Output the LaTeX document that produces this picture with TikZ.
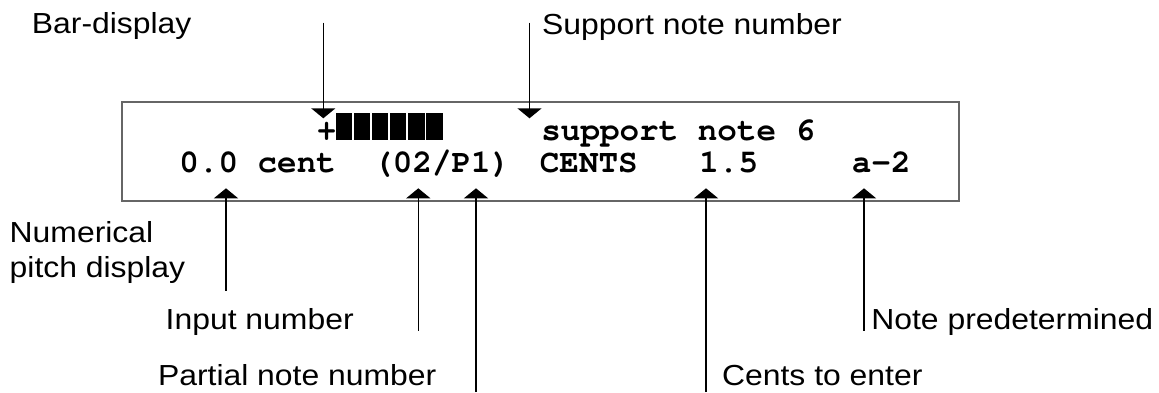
\documentclass[tikz,border=0pt]{standalone}
\usepackage[T1]{fontenc}
\usepackage{fontspec}
\usetikzlibrary{arrows.meta}
\newfontfamily\beschrfont[FakeStretch=1.1]{Liberation Sans}
\newcommand\anzeigefont{\fontencoding{T1}\fontfamily{pcr}\fontseries{b}\fontsize{16.3}{18}\selectfont}

\begin{document}
\begin{tikzpicture}[x=0.5pt, y=-0.5pt,
    pfeil/.style={line width=0.8pt, -{Triangle[width=12pt, length=5pt]}},
    beschr/.style={anchor=base west, inner sep=0pt, align=left, font=\beschrfont\fontsize{14.5}{17.5}\selectfont},
    anzeige/.style={anchor=base west, inner sep=0pt, font=\anzeigefont},
    balken/.style={fill=black}]
            \useasboundingbox (0,0) rectangle (1159,392);
            \draw [black!60, line width=0.8pt] (122,102) rectangle (959,201);  %Rahmen
            \node [anzeige] (plus) at (316.5,140) {+};                     %Zeile 1
            \fill [balken] (335.7,113.3) rectangle ++(16.4,26.7);
            \fill [balken] (353.8,113.3) rectangle ++(16.4,26.7);
            \fill [balken] (371.9,113.3) rectangle ++(16.4,26.7);
            \fill [balken] (390.0,113.3) rectangle ++(16.4,26.7);
            \fill [balken] (408.1,113.3) rectangle ++(16.4,26.7);
            \fill [balken] (426.2,113.3) rectangle ++(16.4,26.7);
            \node [anzeige] (stuetz) at (541,140) {support note 6};
            \node [anzeige] (wert) at (179,172.7) {0.0 cent};              %Zeile 2
            \node [anzeige] (eing) at (373,172.7) {(02/P1)};
            \node [anzeige] (cents) at (539.5,172.7) {CENTS};
            \node [anzeige] (zahl) at (699,172.7) {1.5};
            \node [anzeige] (ton) at (851.5,172.7) {a-2};
            \node [beschr] (bar) at (31.5,33.5) {Bar-display};             %Beschriftung
            \node [beschr] (sup) at (541.8,34.3) {Support note number};
            \node [beschr] (num) at (9.3,277.3) {Numerical\\pitch display};
            \node [beschr] (inp) at (165.3,329.3) {Input number};
            \node [beschr] (par) at (157.6,385) {Partial note number};
            \node [beschr] (cen) at (721.7,385) {Cents to enter};
            \node [beschr] (vorg) at (870.9,329.3) {Note predetermined};
            \coordinate (oben) at (0,118.3);                                %Pfeilspitzen
            \coordinate (unten) at (0,188.3);
            \coordinate (barS) at (323.3,22.7);                              %Pfeilenden
            \coordinate (supS) at (529.5,22.7);
            \coordinate (numS) at (226,290.7);
            \coordinate (inpS) at (418.3,330.7);
            \coordinate (parS) at (476,392);
            \coordinate (cenS) at (706,392);
            \coordinate (vorgS) at (864,330.7);
            \draw [pfeil] (barS) -- (barS |- oben);
            \draw [pfeil] (supS) -- (supS |- oben);
            \draw [pfeil] (numS) -- (numS |- unten);
            \draw [pfeil] (inpS) -- (inpS |- unten);
            \draw [pfeil] (parS) -- (parS |- unten);
            \draw [pfeil] (cenS) -- (cenS |- unten);
            \draw [pfeil] (vorgS) -- (vorgS |- unten);
        \end{tikzpicture}
\end{document}
